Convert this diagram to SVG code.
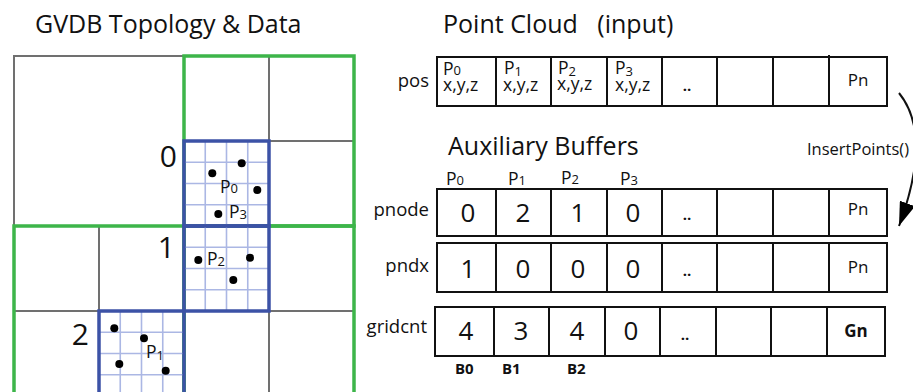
<svg xmlns="http://www.w3.org/2000/svg" width="913" height="392" viewBox="0 0 913 392">
<style>
text{font-family:"Open Sans","Noto Sans","Liberation Sans",sans-serif;fill:#111}
.title{font-size:25px}
.lbl{font-size:18.5px;text-anchor:end}
.num{font-size:26px;text-anchor:middle}
.big{font-size:30px;text-anchor:end}
.pt{font-size:17.5px}
.sub{font-size:13px}
.dots{font-size:15px;text-anchor:middle;font-weight:bold}
.pn{font-size:17px;text-anchor:middle}
.b{font-size:15px;font-weight:bold}
.gray{stroke:#707070;stroke-width:2;fill:none}
.green{stroke:#3db54a;stroke-width:3.5;fill:none}
.fine{stroke:#abb7e4;stroke-width:1.6;fill:none}
.blue{stroke:#3c52a6;stroke-width:3.5;fill:none}
.cell{stroke:#111;stroke-width:2;fill:#fff}
.div{stroke:#111;stroke-width:2}
.dot{fill:#000}
.conn{stroke:#111;stroke-width:2;fill:none}
</style>
<defs>
<marker id="ah" markerUnits="userSpaceOnUse" markerWidth="24" markerHeight="16" refX="24" refY="8" orient="auto">
<path d="M0,0 L24,8 L0,16 z" fill="#000"/>
</marker>
</defs>

<g id="title-gvdb"><text class="title" x="35" y="33">GVDB Topology &amp; Data</text></g>
<g id="title-pointcloud"><text class="title" x="443" y="33" xml:space="preserve">Point Cloud   (input)</text></g>
<g id="title-aux"><text class="title" x="448" y="155">Auxiliary Buffers</text></g>

<g id="topology">
<g id="gray-lines">
<path class="gray" d="M14,226 V56 H184"/>
<path class="gray" d="M269,56 V141 H354"/>
<path class="gray" d="M99,226 V311 H14"/>
<path class="gray" d="M269,311 H354 M269,311 V396"/>
</g>
<g id="green-boxes">
<rect class="green" x="184" y="56" width="170" height="170"/>
<rect class="green" x="14" y="226" width="170" height="170"/>
<rect class="green" x="184" y="226" width="170" height="170"/>
</g>
<g id="brick-0">
<path class="fine" d="M205.25,141 V226 M226.5,141 V226 M247.75,141 V226 M184,162.25 H269 M184,183.5 H269 M184,204.75 H269"/>
<rect class="blue" x="184" y="141" width="85" height="85"/>
<text x="177" y="167" class="big">0</text>
<circle class="dot" cx="241.7" cy="163.3" r="4"/>
<circle class="dot" cx="212.3" cy="173.3" r="4"/>
<circle class="dot" cx="257.3" cy="190" r="4"/>
<circle class="dot" cx="218.3" cy="214" r="4"/>
<text class="pt" x="220" y="193">P<tspan class="sub">0</tspan></text>
<text class="pt" x="229" y="218">P<tspan class="sub" dy="1">3</tspan></text>
</g>
<g id="brick-1">
<path class="fine" d="M205.25,226 V311 M226.5,226 V311 M247.75,226 V311 M184,247.25 H269 M184,268.5 H269 M184,289.75 H269"/>
<rect class="blue" x="184" y="226" width="85" height="85"/>
<text x="175" y="258" class="big">1</text>
<circle class="dot" cx="198.3" cy="260" r="4"/>
<circle class="dot" cx="250" cy="257.7" r="4"/>
<circle class="dot" cx="233.3" cy="280" r="4"/>
<text class="pt" x="207" y="265">P<tspan class="sub" dy="1">2</tspan></text>
</g>
<g id="brick-2">
<path class="fine" d="M120.25,311 V396 M141.5,311 V396 M162.75,311 V396 M99,332.25 H184 M99,353.5 H184 M99,374.75 H184"/>
<rect class="blue" x="99" y="311" width="85" height="85"/>
<text x="89" y="345" class="big">2</text>
<circle class="dot" cx="114.3" cy="328.3" r="4"/>
<circle class="dot" cx="144" cy="338.3" r="4"/>
<circle class="dot" cx="119.3" cy="364" r="4"/>
<circle class="dot" cx="165.7" cy="370.7" r="4"/>
<text class="pt" x="146" y="358">P<tspan class="sub" dy="2">1</tspan></text>
</g>
</g>

<g id="pos">
<text class="lbl" x="429" y="87">pos</text>
<rect class="cell" x="437" y="57" width="450" height="49"/>
<path class="div" d="M496,57 V106 M551,57 V106 M607,57 V106 M662,57 V106 M717,57 V106 M773,57 V106 M829,55 V106"/>
<text class="pt" x="443" y="75">P<tspan class="sub">0</tspan></text>
<text class="pt" x="443" y="91">x,y,z</text>
<text class="pt" x="504" y="74">P<tspan class="sub" dy="2">1</tspan></text>
<text class="pt" x="503" y="91">x,y,z</text>
<text class="pt" x="558" y="74">P<tspan class="sub" dy="2">2</tspan></text>
<text class="pt" x="557" y="90">x,y,z</text>
<text class="pt" x="615" y="74">P<tspan class="sub" dy="2">3</tspan></text>
<text class="pt" x="615" y="91">x,y,z</text>
<text class="dots" x="687" y="91">..</text>
<text class="pn" x="858" y="86">Pn</text>
</g>

<g id="col-labels">
<text class="pt" x="446" y="185">P<tspan class="sub">0</tspan></text>
<text class="pt" x="508" y="185">P<tspan class="sub">1</tspan></text>
<text class="pt" x="561" y="184">P<tspan class="sub">2</tspan></text>
<text class="pt" x="620" y="185">P<tspan class="sub">3</tspan></text>
</g>

<g id="pnode">
<text class="lbl" x="429" y="216">pnode</text>
<rect class="cell" x="437" y="189" width="450" height="47"/>
<path class="div" d="M496,189 V236 M551,189 V236 M607,189 V236 M662,189 V236 M717,189 V236 M773,189 V236 M829,189 V236"/>
<text class="num" x="468" y="222">0</text>
<text class="num" x="523" y="222">2</text>
<text class="num" x="578" y="222">1</text>
<text class="num" x="633" y="222">0</text>
<text class="dots" x="687" y="220">..</text>
<text class="pn" x="858" y="215">Pn</text>
</g>

<g id="pndx">
<text class="lbl" x="429" y="272">pndx</text>
<rect class="cell" x="437" y="243" width="450" height="49"/>
<path class="div" d="M496,243 V292 M551,243 V292 M607,243 V292 M662,243 V292 M717,243 V292 M773,243 V292 M829,243 V292"/>
<text class="num" x="468" y="278">1</text>
<text class="num" x="523" y="278">0</text>
<text class="num" x="578" y="278">0</text>
<text class="num" x="633" y="278">0</text>
<text class="dots" x="687" y="276">..</text>
<text class="pn" x="858" y="273">Pn</text>
</g>

<g id="gridcnt">
<text class="lbl" x="427" y="333">gridcnt</text>
<rect class="cell" x="435" y="307" width="450" height="49"/>
<path class="div" d="M494,307 V356 M549,307 V356 M605,307 V356 M660,307 V356 M716,307 V356 M771,307 V356 M827,307 V356"/>
<text class="num" x="466" y="340">4</text>
<text class="num" x="521" y="340">3</text>
<text class="num" x="577" y="340">4</text>
<text class="num" x="631" y="340">0</text>
<text class="dots" x="685" y="340">..</text>
<text class="pn" x="856" y="337" style="font-weight:bold">Gn</text>
<text class="b" x="455" y="374">B0</text>
<text class="b" x="502" y="374">B1</text>
<text class="b" x="567" y="374">B2</text>
</g>

<g id="connectors">
<path class="conn" d="M899,93 C925,125 918,175 899,226" marker-end="url(#ah)"/>
<text x="807" y="155" style="font-size:16.5px">InsertPoints()</text>
</g>
</svg>
